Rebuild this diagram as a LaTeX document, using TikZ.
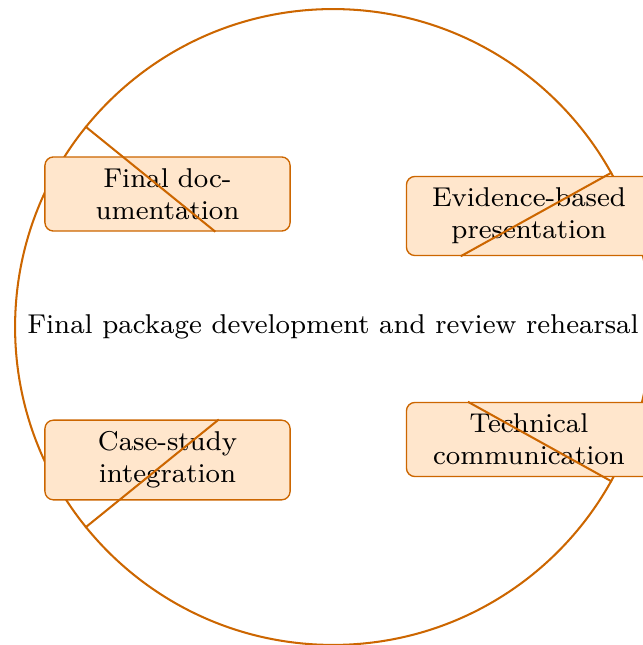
\documentclass[tikz,border=0pt]{standalone}
\definecolor{edgec}{RGB}{204,102,0}
\definecolor{boxfill}{RGB}{255,230,204}
\begin{document}
\begin{tikzpicture}[x=0.2941pt,y=-0.2941pt, font=\footnotesize,
  box/.style={draw=edgec, fill=boxfill, rounded corners=2.5pt, text width=2.3cm, align=center, inner sep=3.33pt, line width=0.4pt},
  link/.style={draw=edgec, line width=0.6pt}]
\useasboundingbox (0,0) rectangle (642,645);
\node[circle, draw=edgec, line width=0.6pt, minimum size=187pt, inner sep=0pt] (ctr) at (333,327) {Final package development and review rehearsal};
\node[box] (tl) at (167.5,194) {Final doc-\\umentation};
\node[box] (tr) at (529,216) {Evidence-based\\presentation};
\node[box] (bl) at (167.5,460) {Case-study\\integration};
\node[box] (br) at (529,439.5) {Technical\\communication};
\draw[link] (ctr.141.1) -- (intersection of ctr.141.1--ctr.center and tl.south west--tl.south east);
\draw[link] (ctr.29) -- (intersection of ctr.29--ctr.center and tr.south west--tr.south east);
\draw[link] (ctr.-29.3) -- (intersection of ctr.-29.3--ctr.center and br.north west--br.north east);
\draw[link] (ctr.-141.1) -- (intersection of ctr.-141.1--ctr.center and bl.north west--bl.north east);
\end{tikzpicture}
\end{document}
